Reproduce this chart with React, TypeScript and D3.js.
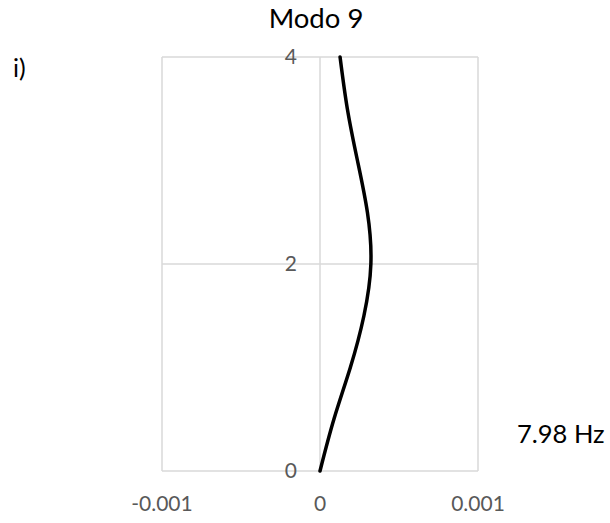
import React from "react";
import * as d3 from "d3";

const heights = [0, 0.5, 1.0, 1.5, 2.0, 2.5, 3.0, 3.5, 4.0];
const displacements = [0, 0.0000880, 0.000192, 0.000278, 0.000322, 0.000300, 0.000237, 0.000173, 0.000127];
const xTicks = [-0.001, 0, 0.001];
const xTickLabels = ["-0.001", "0", "0.001"];
const yTicks = [0, 2, 4];
const yTickLabels = ["0", "2", "4"];
const title = "Modo 9";
const panelLabel = "i)";
const freqLabel = "7.98 Hz";

const W = 610;
const H = 523;
const FONT = "Lato, 'Open Sans', sans-serif";

export default function App() {
  const x = d3.scaleLinear().domain([-0.001, 0.001]).range([162, 478]);
  const y = d3.scaleLinear().domain([0, 4]).range([471, 57]);
  const pts = heights.map((h, i) => [displacements[i], h] as [number, number]);
  const line = d3
    .line<[number, number]>()
    .x((d) => x(d[0]))
    .y((d) => y(d[1]))
    .curve(d3.curveNatural);
  const grid = "#d9d9d9";
  return (
    <svg
      width={W}
      height={H}
      style={{ position: "absolute", left: 0, top: 0, background: "#fff" }}
      fontFamily={FONT}
    >
      <rect x={0} y={0} width={W} height={H} fill="#fff" />
      {yTicks.map((t) => (
        <line key={"h" + t} x1={x(-0.001)} x2={x(0.001)} y1={y(t)} y2={y(t)} stroke={grid} strokeWidth={1.5} />
      ))}
      {xTicks.map((t) => (
        <line key={"v" + t} x1={x(t)} x2={x(t)} y1={y(0)} y2={y(4)} stroke={grid} strokeWidth={1.5} />
      ))}
      <path d={line(pts) || ""} fill="none" stroke="#000" strokeWidth={3.5} strokeLinecap="round" />
      {yTicks.map((t, i) => (
        <text key={"yl" + t} x={x(0) - 23} y={y(t)} dy="0.35em" textAnchor="end" fontSize={21} fill="#595959">
          {yTickLabels[i]}
        </text>
      ))}
      {xTicks.map((t, i) => (
        <text key={"xl" + t} x={x(t)} y={511} textAnchor="middle" fontSize={21} fill="#595959">
          {xTickLabels[i]}
        </text>
      ))}
      <text x={316} y={28} textAnchor="middle" fontSize={27.5} fill="#000">
        {title}
      </text>
      <text x={13} y={77} fontSize={25} fill="#000">
        {panelLabel}
      </text>
      <text x={517} y={443} fontSize={25.5} fill="#000">
        {freqLabel}
      </text>
    </svg>
  );
}
